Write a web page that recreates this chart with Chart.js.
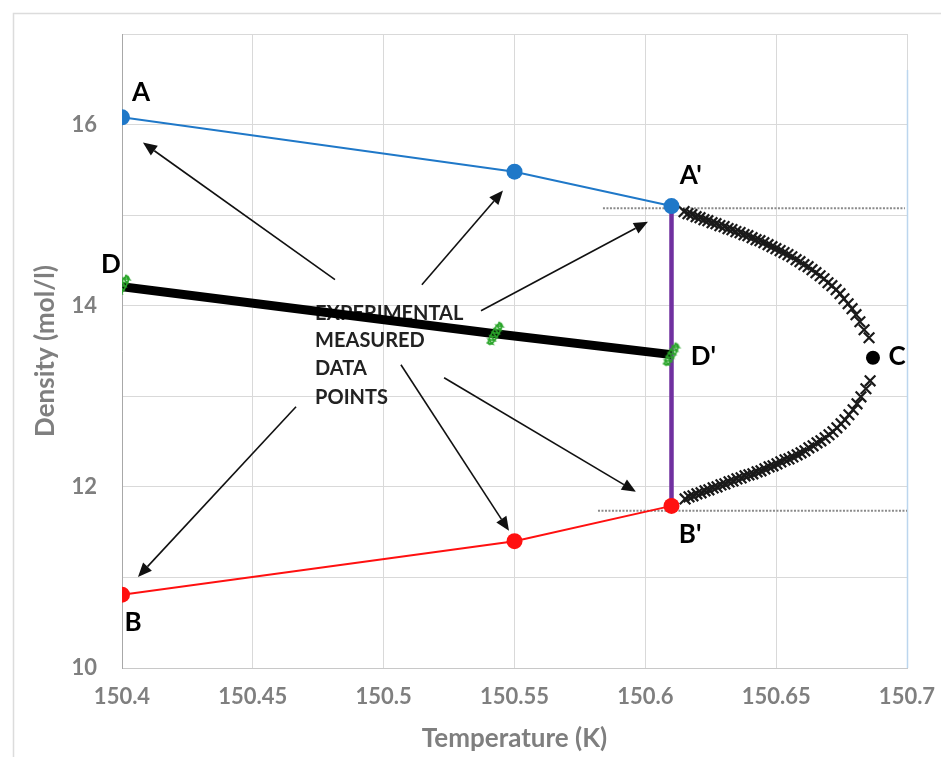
<!DOCTYPE html>
<html><head><meta charset="utf-8">
<script src="https://cdn.jsdelivr.net/npm/chart.js@4.4.1/dist/chart.umd.min.js"></script>
<style>html,body{margin:0;padding:0;background:#fff;} canvas{display:block;}</style>
</head><body>
<canvas id="c" width="941" height="757" style="width:941px;height:757px"></canvas>
<script>
// ---------- DATA ----------
const xTickValues = [150.4, 150.45, 150.5, 150.55, 150.6, 150.65, 150.7];
const xTickLabels = ['150.4', '150.45', '150.5', '150.55', '150.6', '150.65', '150.7'];
const yTickValues = [10, 11, 12, 13, 14, 15, 16, 17];
const yTickLabels = ['10', '', '12', '', '14', '', '16', ''];

const tempMeasured = [150.4, 150.55, 150.61];
const densityLiquid = [16.08, 15.48, 15.10];
const densityVapor = [10.81, 11.40, 11.79];

const tempMixture = [150.4, 150.5426, 150.61];
const densityMixture = [14.21, 13.69, 13.46];

const tempVertical = [150.61, 150.61];
const densityVertical = [15.10, 11.79];

const tempUpper = [150.6148,150.6163,150.6178,150.6194,150.6209,150.6224,150.6239,150.6255,150.6270,150.6285,150.6301,150.6316,150.6331,150.6346,150.6362,150.6377,150.6392,150.6408,150.6423,150.6438,150.6453,150.6469,150.6484,150.6499,150.6515,150.6530,150.6545,150.6560,150.6576,150.6591,150.6606,150.6622,150.6637,150.6652,150.6668,150.6683,150.6698,150.6713,150.6729,150.6744,150.6759,150.6775,150.6790,150.6805,150.6820,150.6836,150.6855];
const densityUpper = [15.039,15.017,15.006,14.983,14.972,14.950,14.939,14.917,14.906,14.884,14.873,14.851,14.840,14.818,14.807,14.785,14.773,14.751,14.729,14.718,14.696,14.674,14.652,14.630,14.608,14.586,14.564,14.541,14.508,14.486,14.453,14.431,14.398,14.365,14.331,14.298,14.254,14.221,14.177,14.133,14.077,14.022,13.967,13.901,13.823,13.735,13.646];

const tempLower = [150.6152,150.6167,150.6182,150.6197,150.6213,150.6228,150.6243,150.6259,150.6274,150.6289,150.6304,150.6320,150.6335,150.6350,150.6366,150.6381,150.6396,150.6411,150.6427,150.6442,150.6457,150.6473,150.6488,150.6503,150.6518,150.6534,150.6549,150.6564,150.6580,150.6595,150.6610,150.6625,150.6641,150.6656,150.6671,150.6687,150.6702,150.6717,150.6732,150.6748,150.6763,150.6778,150.6794,150.6809,150.6824,150.6843,150.6859];
const densityLower = [11.867,11.890,11.901,11.923,11.934,11.956,11.967,11.989,12.000,12.022,12.033,12.055,12.066,12.088,12.099,12.122,12.133,12.144,12.166,12.177,12.199,12.221,12.232,12.254,12.276,12.298,12.309,12.331,12.354,12.376,12.398,12.431,12.453,12.486,12.508,12.541,12.575,12.608,12.652,12.696,12.740,12.796,12.851,12.917,12.994,13.083,13.171];

const tempCritical = [150.687];
const densityCritical = [13.425];

const tempDottedTop = [150.5838, 150.6992];
const densityDottedTop = [15.077, 15.077];
const tempDottedBottom = [150.5819, 150.7011];
const densityDottedBottom = [11.735, 11.735];

const pointLabels = ['A', "A'", 'D', "D'", 'C', "B'", 'B'];
const pointLabelTemp = [150.4073, 150.6174, 150.3958, 150.6222, 150.6962, 150.6171, 150.4042];
const pointLabelDensity = [16.354, 15.436, 14.453, 13.436, 13.436, 11.470, 10.497];

const noteLines = ['EXPERIMENTAL', 'MEASURED', 'DATA', 'POINTS'];
const noteTemp = 150.4738;
const noteDensity = [13.912, 13.613, 13.304, 12.983];

const arrowTailTemp = [150.4814, 150.5146, 150.5372, 150.4665, 150.5066, 150.5231];
const arrowTailDensity = [14.287, 14.232, 13.945, 12.884, 13.348, 13.204];
const arrowHeadTemp = [150.4080, 150.5456, 150.6010, 150.4061, 150.5479, 150.5964];
const arrowHeadDensity = [15.801, 15.271, 14.928, 11.006, 11.514, 11.945];

// ---------- helpers ----------
function pts(xs, ys) { return xs.map((x, i) => ({x: x, y: ys[i]})); }

function makeScribble() {
  const cv = document.createElement('canvas');
  cv.width = 30; cv.height = 30;
  const g = cv.getContext('2d');
  g.translate(15, 15);
  g.rotate(-Math.PI / 3);
  g.strokeStyle = '#2aa52a';
  g.lineWidth = 1.6;
  g.beginPath();
  for (let i = 0; i <= 12; i++) {
    const px = -12 + i * 2;
    const py = (i % 2 ? 3 : -3);
    if (i === 0) g.moveTo(px, py); else g.lineTo(px, py);
  }
  g.stroke();
  g.beginPath();
  g.ellipse(0, 0, 12, 3.2, 0, 0, Math.PI * 2);
  g.stroke();
  return cv;
}
const scribble = makeScribble();

const GRID = '#d9d9d9';
const AXISGRAY = '#7f7f7f';

const decorPlugin = {
  id: 'decor',
  beforeDraw(chart) {
    const c = chart.ctx;
    c.save();
    c.fillStyle = '#ffffff';
    c.fillRect(0, 0, chart.width, chart.height);
    c.strokeStyle = '#dcdcdc';
    c.lineWidth = 1.5;
    c.beginPath();
    c.moveTo(13.5, chart.height);
    c.lineTo(13.5, 13.5);
    c.lineTo(chart.width, 13.5);
    c.stroke();
    c.restore();
  },
  beforeDatasetsDraw(chart) {
    const c = chart.ctx, xs = chart.scales.x, ys = chart.scales.y;
    const a = chart.chartArea;
    c.save();
    c.strokeStyle = '#bcd6ee';
    c.lineWidth = 1.5;
    c.beginPath();
    c.moveTo(a.right + 0.5, a.top + 36);
    c.lineTo(a.right + 0.5, a.bottom);
    c.stroke();
    c.fillStyle = '#222222';
    c.font = 'bold 20px Lato, "Liberation Sans", sans-serif';
    c.textAlign = 'left';
    c.textBaseline = 'middle';
    noteLines.forEach((t, i) => {
      c.fillText(t, xs.getPixelForValue(noteTemp), ys.getPixelForValue(noteDensity[i]));
    });
    c.restore();
  },
  afterDatasetsDraw(chart) {
    const c = chart.ctx, xs = chart.scales.x, ys = chart.scales.y;
    c.save();
    c.strokeStyle = '#111111';
    c.fillStyle = '#111111';
    c.lineWidth = 1.6;
    arrowTailTemp.forEach((t, i) => {
      const x1 = xs.getPixelForValue(t), y1 = ys.getPixelForValue(arrowTailDensity[i]);
      const x2 = xs.getPixelForValue(arrowHeadTemp[i]), y2 = ys.getPixelForValue(arrowHeadDensity[i]);
      const ang = Math.atan2(y2 - y1, x2 - x1);
      const L = 14, W = 6;
      const bx = x2 - L * Math.cos(ang), by = y2 - L * Math.sin(ang);
      c.beginPath();
      c.moveTo(x1, y1);
      c.lineTo(bx, by);
      c.stroke();
      c.beginPath();
      c.moveTo(x2, y2);
      c.lineTo(bx + W * Math.sin(ang), by - W * Math.cos(ang));
      c.lineTo(bx - W * Math.sin(ang), by + W * Math.cos(ang));
      c.closePath();
      c.fill();
    });
    c.fillStyle = '#000000';
    c.font = 'bold 26px Lato, "Liberation Sans", sans-serif';
    c.textAlign = 'center';
    c.textBaseline = 'middle';
    pointLabels.forEach((t, i) => {
      c.fillText(t, xs.getPixelForValue(pointLabelTemp[i]), ys.getPixelForValue(pointLabelDensity[i]));
    });
    c.restore();
  }
};

const chart = new Chart(document.getElementById('c'), {
  type: 'scatter',
  data: {
    datasets: [
      { label: 'Liquid', data: pts(tempMeasured, densityLiquid), showLine: true,
        borderColor: '#1f78c8', backgroundColor: '#1f78c8', borderWidth: 2,
        pointRadius: 8, pointBorderWidth: 0 },
      { label: 'Vapor', data: pts(tempMeasured, densityVapor), showLine: true,
        borderColor: '#ff1010', backgroundColor: '#ff1010', borderWidth: 2,
        pointRadius: 8, pointBorderWidth: 0 },
      { label: 'Critical', data: pts(tempCritical, densityCritical),
        borderColor: '#000', backgroundColor: '#000', pointRadius: 7, pointBorderWidth: 0 },
      { label: 'Mixture marks', data: pts(tempMixture, densityMixture),
        pointStyle: scribble, pointRadius: 15, showLine: false },
      { label: 'Mixture', data: pts(tempMixture, densityMixture), showLine: true,
        borderColor: '#000', backgroundColor: '#000', borderWidth: 9, pointRadius: 0 },
      { label: 'Vertical', data: pts(tempVertical, densityVertical), showLine: true,
        borderColor: '#7030a0', borderWidth: 4.5, pointRadius: 0 },
      { label: 'Upper', data: pts(tempUpper, densityUpper), showLine: false,
        pointStyle: 'crossRot', pointRadius: 7.5, borderColor: '#1a1a1a', pointBorderWidth: 2.2 },
      { label: 'Lower', data: pts(tempLower, densityLower), showLine: false,
        pointStyle: 'crossRot', pointRadius: 7.5, borderColor: '#1a1a1a', pointBorderWidth: 2.2 },
      { label: 'DotTop', data: pts(tempDottedTop, densityDottedTop), showLine: true,
        borderColor: '#8a8a8a', borderWidth: 2, borderDash: [2, 1.5], pointRadius: 0 },
      { label: 'DotBottom', data: pts(tempDottedBottom, densityDottedBottom), showLine: true,
        borderColor: '#8a8a8a', borderWidth: 2, borderDash: [2, 1.5], pointRadius: 0 }
    ]
  },
  options: {
    responsive: false,
    animation: false,
    devicePixelRatio: 1,
    layout: { padding: { top: 34, right: 34, left: 0, bottom: 0 } },
    plugins: { legend: { display: false }, tooltip: { enabled: false } },
    scales: {
      x: {
        type: 'linear', min: 150.4, max: 150.7,
        afterBuildTicks: s => { s.ticks = xTickValues.map(v => ({value: v})); },
        afterFit: s => { s.height = 89; s.paddingLeft = 0; s.paddingRight = 0; },
        grid: { color: GRID, lineWidth: 1, drawTicks: false },
        border: { color: '#c8c8c8', width: 1 },
        ticks: {
          padding: 16, color: AXISGRAY,
          font: { family: 'Lato', size: 22, weight: 'bold' },
          callback: (v, i) => xTickLabels[i]
        },
        title: { display: true, text: 'Temperature (K)', color: AXISGRAY,
          font: { family: 'Lato', size: 26, weight: 'bold' }, padding: { top: 0, bottom: 3 } }
      },
      y: {
        type: 'linear', min: 10, max: 17,
        afterBuildTicks: s => { s.ticks = yTickValues.map(v => ({value: v})); },
        afterFit: s => { s.width = 122; s.paddingTop = 0; s.paddingBottom = 0; },
        grid: { color: GRID, lineWidth: 1, drawTicks: false },
        border: { color: '#a8a8a8', width: 1 },
        ticks: {
          padding: 25, color: AXISGRAY,
          font: { family: 'Lato', size: 22, weight: 'bold' },
          callback: (v, i) => yTickLabels[i]
        },
        title: { display: true, text: 'Density (mol/l)', color: AXISGRAY,
          font: { family: 'Lato', size: 26, weight: 'bold' }, padding: { top: 30, bottom: 0 } }
      }
    }
  },
  plugins: [decorPlugin]
});
</script></body></html>
